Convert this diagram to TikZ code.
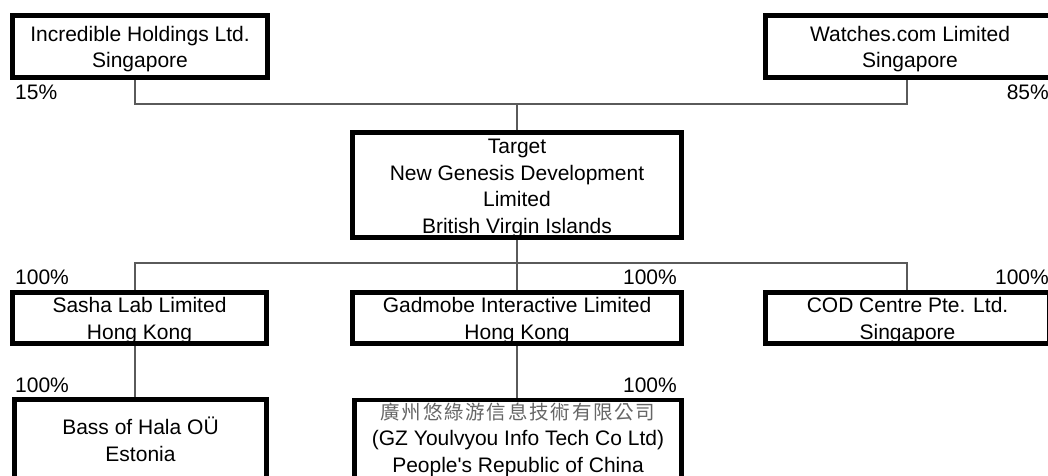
\documentclass[tikz,border=0pt]{standalone}
\usepackage{fontspec}
\setmainfont{Liberation Sans}
\newfontfamily\cjkfont[LetterSpace=9]{Noto Sans CJK TC}
\definecolor{conncol}{HTML}{5A5A5A}
\definecolor{cjkgray}{HTML}{666666}
\newcommand\toppad{\rule{0pt}{20.6pt}}
\begin{document}
\begin{tikzpicture}[x=1pt,y=-1pt,
  entity/.style={draw=black,line width=4.6pt,fill=white,align=center,inner sep=0pt,
    font=\fontsize{21}{26.5}\selectfont,text=black},
  conn/.style={draw=conncol,line width=1.4pt},
  pct/.style={inner sep=0pt,font=\fontsize{21}{25}\selectfont,text=black}]
\useasboundingbox (0,0) rectangle (1048,475);
\clip (0,0) rectangle (1048,475);
\fill[white] (0,0) rectangle (1048,475);
% nodes
\node[entity,minimum width=255pt,minimum height=62pt] (inc) at (140,46.5) {\toppad Incredible Holdings Ltd.\\Singapore};
\node[entity,minimum width=289pt,minimum height=62pt] (watch) at (910,46.5) {\toppad Watches.com Limited\\Singapore};
\node[entity,minimum width=329pt,minimum height=101pt] (target) at (517,185) {\rule{0pt}{21pt}Target\\New Genesis Development\\Limited\\British Virgin Islands};
\node[entity,minimum width=254pt,minimum height=51pt] (sasha) at (139.5,318) {\toppad Sasha Lab Limited\\Hong Kong};
\node[entity,minimum width=329pt,minimum height=51pt] (gad) at (517,318) {\toppad Gadmobe Interactive Limited\\Hong Kong};
\node[entity,minimum width=284pt,minimum height=51pt] (cod) at (907.5,318) {\toppad COD Centre Pte. Ltd.\\Singapore};
\node[entity,minimum width=252pt,minimum height=80pt] (bass) at (140.5,439.5) {Bass of Hala OÜ\\Estonia};
\node[entity,minimum width=327pt,minimum height=79pt] (gz) at (518,439.5) {{\cjkfont\color{cjkgray}\fontsize{19.5}{26.5}\selectfont 廣州悠綠游信息技術有限公司}\\(GZ Youlvyou Info Tech Co Ltd)\\People\textquotesingle s Republic of China};
% junction coordinates
\coordinate (hl) at (135,104);
\coordinate (hr) at (907,104);
\coordinate (ml) at (135,263);
\coordinate (mr) at (907,263);
% connectors
\draw[conn] (inc.south -| hl) -- (hl) -- (hr) -- (watch.south -| hr);
\draw[conn] (target.north) -- (target.north |- hl);
\draw[conn] (target.south) -- (target.south |- ml);
\draw[conn] (sasha.north -| ml) -- (ml) -- (mr) -- (cod.north -| mr);
\draw[conn] (gad.north) -- (gad.north |- ml);
\draw[conn] (sasha.south -| ml) -- (bass.north -| ml);
\draw[conn] (gad.south) -- (gz.north -| gad.south);
% percentage labels
\node[pct,anchor=west] (p15) at (15,92) {15\%};
\node[pct,anchor=east] (p85) at (1049,92) {85\%};
\node[pct,anchor=west] (p1) at (15,277) {100\%};
\node[pct,anchor=east] (p2) at (677,277) {100\%};
\node[pct,anchor=east] (p3) at (1049,277) {100\%};
\node[pct,anchor=west] (p4) at (15,385) {100\%};
\node[pct,anchor=east] (p5) at (677,385) {100\%};
\end{tikzpicture}
\end{document}
